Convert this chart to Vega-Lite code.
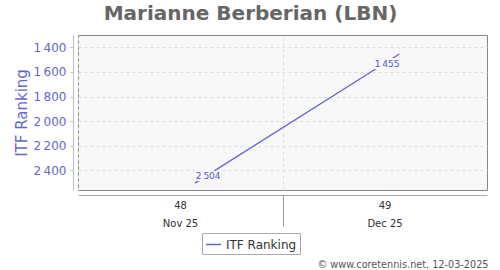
{
  "$schema": "https://vega.github.io/schema/vega-lite/v6.json",
  "width": 409,
  "height": 155,
  "autosize": "none",
  "padding": {"left": 78, "top": 35, "right": 13, "bottom": 80},
  "background": "white",
  "title": {
    "text": "Marianne Berberian (LBN)",
    "font": "DejaVu Sans",
    "fontSize": 20,
    "fontWeight": "bold",
    "color": "#666666",
    "anchor": "middle",
    "dx": -32,
    "offset": 11
  },
  "config": {
    "font": "DejaVu Sans",
    "locale": {
      "number": {"decimal": ".", "thousands": "\u202f", "grouping": [3], "currency": ["", ""]}
    },
    "view": {"fill": "#f8f8f8", "stroke": "#888888", "strokeWidth": 1}
  },
  "data": {
    "values": [
      {"date": "2025-11-28", "rank": 2504, "series": "ITF Ranking"},
      {"date": "2025-12-05", "rank": 1455, "series": "ITF Ranking"}
    ]
  },
  "encoding": {
    "x": {
      "field": "date",
      "type": "temporal",
      "scale": {
        "type": "utc",
        "domain": [
          {"year": 2025, "month": 11, "date": 24, "utc": true},
          {"year": 2025, "month": 12, "date": 8, "utc": true}
        ]
      },
      "axis": {
        "values": [
          {"year": 2025, "month": 11, "date": 24, "utc": true},
          {"year": 2025, "month": 12, "date": 1, "utc": true}
        ],
        "labelExpr": "utcmonth(datum.value) == 10 ? ['48', 'Nov 25'] : ['49', 'Dec 25']",
        "labelOffset": 102,
        "labelAlign": "center",
        "labelBaseline": "top",
        "labelFontSize": 10,
        "labelColor": "#333333",
        "labelLineHeight": 18,
        "labelPadding": -26,
        "labelOverlap": false,
        "labelBound": false,
        "labelFlush": false,
        "tickSize": 31,
        "tickColor": {"condition": {"test": "utcmonth(datum.value) == 10", "value": "transparent"}, "value": "#999999"},
        "domainColor": "#aaaaaa",
        "offset": 5,
        "grid": true,
        "gridDash": [3, 3],
        "gridColor": "#dddddd",
        "title": "© www.coretennis.net, 12-03-2025",
        "titleFontSize": 9.7,
        "titleFontWeight": "normal",
        "titleColor": "#555555",
        "titleAnchor": "end",
        "titleAlign": "right",
        "titleBaseline": "alphabetic",
        "titleX": 410,
        "titleY": 72
      }
    },
    "y": {
      "field": "rank",
      "type": "quantitative",
      "scale": {"domain": [1300, 2560], "reverse": true, "nice": false, "zero": false},
      "axis": {
        "values": [1400, 1600, 1800, 2000, 2200, 2400],
        "offset": 5,
        "domainColor": "#bbbbdd",
        "tickColor": "#bbbbdd",
        "tickSize": 3,
        "labelColor": "#6666cc",
        "labelFontSize": 12,
        "labelPadding": 4,
        "grid": true,
        "gridDash": [3, 3],
        "gridColor": "#dddddd",
        "title": "ITF Ranking",
        "titleFontSize": 15,
        "titleFontWeight": "normal",
        "titleColor": "#6666cc",
        "titlePadding": 4
      }
    }
  },
  "layer": [
    {
      "mark": {"type": "line", "strokeWidth": 1.3},
      "encoding": {
        "color": {
          "field": "series",
          "type": "nominal",
          "scale": {"range": ["#6666cc"]},
          "legend": {
            "orient": "none",
            "legendX": 124,
            "legendY": 198,
            "direction": "horizontal",
            "title": null,
            "strokeColor": "#aaaaaa",
            "fillColor": "white",
            "padding": 3,
            "symbolType": "stroke",
            "symbolSize": 225,
            "symbolStrokeWidth": 1.5,
            "labelFontSize": 12,
            "labelColor": "#333333"
          }
        }
      }
    },
    {
      "transform": [{"filter": "datum.rank > 2000"}],
      "layer": [
        {
          "mark": {"type": "text", "align": "left", "baseline": "alphabetic", "dx": 1, "dy": -4, "fontSize": 9, "fill": "transparent", "stroke": "#f8f8f8", "strokeWidth": 4},
          "encoding": {"text": {"field": "rank", "type": "quantitative", "format": ","}}
        },
        {
          "mark": {"type": "text", "align": "left", "baseline": "alphabetic", "dx": 1, "dy": -4, "fontSize": 9, "color": "#5555cc"},
          "encoding": {"text": {"field": "rank", "type": "quantitative", "format": ","}}
        }
      ]
    },
    {
      "transform": [{"filter": "datum.rank < 2000"}],
      "layer": [
        {
          "mark": {"type": "text", "align": "right", "baseline": "alphabetic", "dx": 0, "dy": 13, "fontSize": 9, "fill": "transparent", "stroke": "#f8f8f8", "strokeWidth": 4},
          "encoding": {"text": {"field": "rank", "type": "quantitative", "format": ","}}
        },
        {
          "mark": {"type": "text", "align": "right", "baseline": "alphabetic", "dx": 0, "dy": 13, "fontSize": 9, "color": "#5555cc"},
          "encoding": {"text": {"field": "rank", "type": "quantitative", "format": ","}}
        }
      ]
    }
  ]
}
